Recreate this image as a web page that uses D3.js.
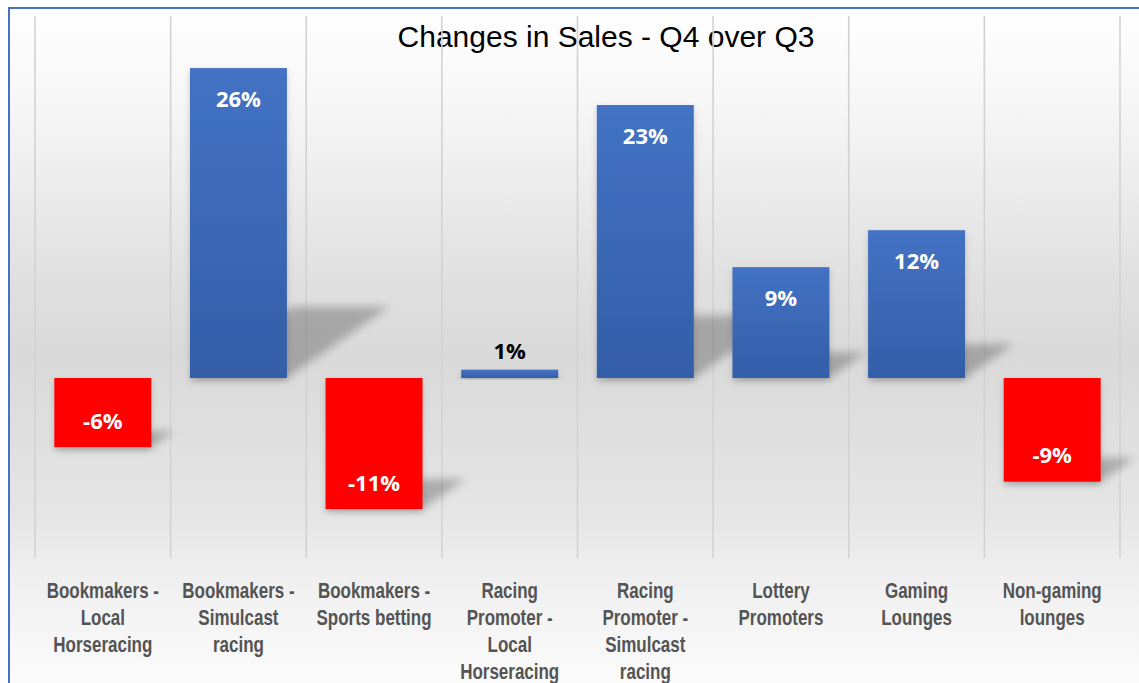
<!DOCTYPE html>
<html>
<head>
<meta charset="utf-8">
<script src="https://d3js.org/d3.v7.min.js"></script>
<style>
  body { margin: 0; background: #fff; }
  svg { display: block; }
  .title { font-family: "Liberation Sans", Arial, sans-serif; font-size: 30px; fill: #000; }
  .cat text { font-family: "Liberation Sans", Arial, sans-serif; font-size: 21.5px; font-weight: bold; fill: #545454; }
  .val { font-family: "Open Sans", sans-serif; font-size: 22px; font-weight: bold; }
</style>
</head>
<body>
<div id="chart"></div>
<script>
// data (percent change, Q4 over Q3)
var categories = [
  "Bookmakers - Local Horseracing",
  "Bookmakers - Simulcast racing",
  "Bookmakers - Sports betting",
  "Racing Promoter - Local Horseracing",
  "Racing Promoter - Simulcast racing",
  "Lottery Promoters",
  "Gaming Lounges",
  "Non-gaming lounges"
];
var labelLines = [
  ["Bookmakers -", "Local", "Horseracing"],
  ["Bookmakers -", "Simulcast", "racing"],
  ["Bookmakers -", "Sports betting"],
  ["Racing", "Promoter -", "Local", "Horseracing"],
  ["Racing", "Promoter -", "Simulcast", "racing"],
  ["Lottery", "Promoters"],
  ["Gaming", "Lounges"],
  ["Non-gaming", "lounges"]
];
var values = [-5.8, 26.0, -11.0, 0.7, 22.9, 9.3, 12.4, -8.7];
var yDomain = [-15, 30];

var W = 1139, H = 683;
var plot = {left: 35, right: 1120, top: 16, bottom: 558};

var svg = d3.select("#chart").append("svg")
  .attr("width", W).attr("height", H);

var defs = svg.append("defs");

// chart area background gradient
var bg = defs.append("linearGradient").attr("id", "bgGrad")
  .attr("x1", 0).attr("y1", 0).attr("x2", 0).attr("y2", 1);
[[0, "#ffffff"], [0.14, "#f6f6f6"], [0.39, "#e0e0e0"], [0.5, "#d9d9d9"],
 [0.73, "#e5e5e5"], [0.82, "#efefef"], [1, "#fdfdfd"]].forEach(function(s) {
  bg.append("stop").attr("offset", s[0]).attr("stop-color", s[1]);
});

var bluGrad = defs.append("linearGradient").attr("id", "blueGrad")
  .attr("x1", 0).attr("y1", 0).attr("x2", 0).attr("y2", 1);
bluGrad.append("stop").attr("offset", 0).attr("stop-color", "#4472c4");
bluGrad.append("stop").attr("offset", 1).attr("stop-color", "#335ea8");

defs.append("filter").attr("id", "blur")
  .attr("x", "-50%").attr("y", "-50%").attr("width", "200%").attr("height", "200%")
  .append("feGaussianBlur").attr("stdDeviation", 4);

defs.append("filter").attr("id", "soft")
  .attr("x", "-20%").attr("y", "-20%").attr("width", "140%").attr("height", "140%")
  .append("feDropShadow").attr("dx", 0).attr("dy", 3).attr("stdDeviation", 3)
  .attr("flood-color", "#000").attr("flood-opacity", 0.18);

// background + border
svg.append("rect")
  .attr("x", 9).attr("y", 8).attr("width", W + 10).attr("height", H + 10)
  .attr("fill", "url(#bgGrad)")
  .attr("stroke", "#4472c4").attr("stroke-width", 2);

var x = d3.scaleBand()
  .domain(categories)
  .range([plot.left, plot.right])
  .paddingInner(0.285)
  .paddingOuter(0.1425);

var y = d3.scaleLinear()
  .domain(yDomain)
  .range([556.8, 20.4]);

// title (sits under the gridlines)
svg.append("text")
  .attr("class", "title")
  .attr("x", 606).attr("y", 47)
  .attr("text-anchor", "middle")
  .text("Changes in Sales - Q4 over Q3");

// vertical gridlines at category boundaries
var step = x.step();
var bounds = d3.range(categories.length + 1).map(function(i) { return plot.left + i * step; });
svg.append("g").selectAll("line")
  .data(bounds).enter().append("line")
    .attr("x1", function(d) { return d; }).attr("x2", function(d) { return d; })
    .attr("y1", plot.top).attr("y2", plot.bottom)
    .attr("stroke", "#d2d2d2").attr("stroke-width", 1.6);

// perspective shadows
svg.append("g").selectAll("path")
  .data(values).enter().append("path")
    .attr("d", function(d, i) {
      var x0 = x(categories[i]), x1 = x0 + x.bandwidth();
      var yb = Math.max(y(0), y(d));
      var h = Math.abs(y(d) - y(0));
      var dx = 0.33 * h, dy = 0.23 * h;
      return "M" + x0 + "," + yb + "L" + x1 + "," + yb +
        "L" + (x1 + dx) + "," + (yb - dy) + "L" + (x0 + dx) + "," + (yb - dy) + "Z";
    })
    .attr("fill", "#000").attr("opacity", 0.24)
    .attr("filter", "url(#blur)");

// bars
svg.append("g").selectAll("rect")
  .data(values).enter().append("rect")
    .attr("x", function(d, i) { return x(categories[i]); })
    .attr("width", x.bandwidth())
    .attr("y", function(d) { return Math.min(y(d), y(0)); })
    .attr("height", function(d) { return Math.abs(y(d) - y(0)); })
    .attr("fill", function(d) { return d < 0 ? "#ff0000" : "url(#blueGrad)"; })
    .attr("filter", "url(#soft)");

// value labels
svg.append("g").selectAll("text")
  .data(values).enter().append("text")
    .attr("class", "val")
    .attr("x", function(d, i) { return x(categories[i]) + x.bandwidth() / 2; })
    .attr("y", function(d) {
      var h = Math.abs(y(d) - y(0));
      if (h < 40) return y(d) - 18;
      return d >= 0 ? y(d) + 31 : y(d) - 26;
    })
    .attr("dy", "0.35em")
    .attr("text-anchor", "middle")
    .attr("fill", function(d) { return Math.abs(y(d) - y(0)) < 40 ? "#000" : "#fff"; })
    .text(function(d) { return Math.round(d) + "%"; });

// category labels
var cat = svg.append("g").attr("class", "cat").selectAll("g")
  .data(categories).enter().append("g")
    .attr("transform", function(d) {
      return "translate(" + (x(d) + x.bandwidth() / 2) + ",598) scale(0.79,1)";
    });
cat.each(function(d, i) {
  var g = d3.select(this);
  labelLines[i].forEach(function(line, j) {
    g.append("text")
      .attr("x", 0).attr("y", j * 27)
      .attr("text-anchor", "middle")
      .text(line);
  });
});
</script>
</body>
</html>
